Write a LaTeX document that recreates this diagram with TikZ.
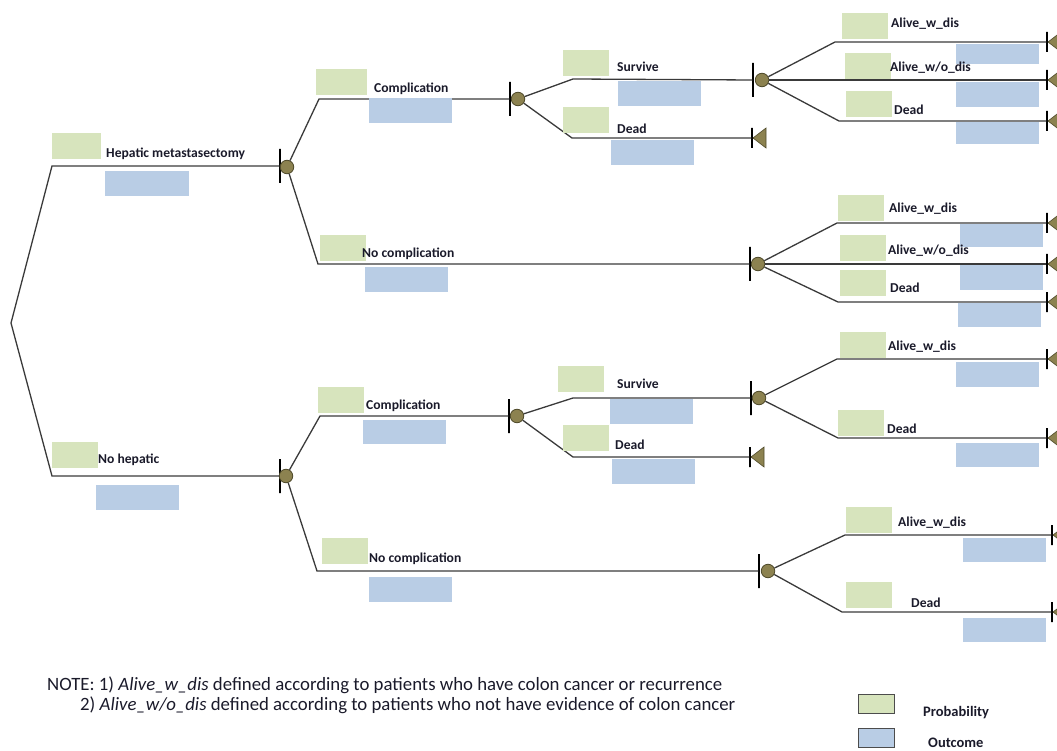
\documentclass[tikz,border=0pt]{standalone}
\usepackage{fontspec}
\setmainfont{Carlito}[BoldFont={Carlito Bold},ItalicFont={Carlito Italic}]
\definecolor{pgreen}{HTML}{D7E4BD}
\definecolor{oblue}{HTML}{B9CDE5}
\definecolor{olive}{HTML}{8C8250}
\definecolor{oliveD}{HTML}{4F4A2A}
\definecolor{linec}{HTML}{3A3A3A}
\definecolor{txt}{HTML}{1A1A2A}
\begin{document}
\begin{tikzpicture}[x=1pt,y=-1pt,
 branch/.style={draw=linec,line width=1.3pt},
 pbox/.style={fill=pgreen,anchor=north west,inner sep=0,minimum width=46pt,minimum height=26pt},
 obox/.style={fill=oblue,anchor=north west,inner sep=0,minimum width=83pt,minimum height=25pt},
 lab/.style={anchor=base west,inner sep=0,font=\fontsize{13.6}{15}\selectfont\bfseries,text=txt},
 leglab/.style={anchor=base west,inner sep=0,font=\fontsize{14.5}{16}\selectfont\bfseries,text=txt},
 bigtick/.style={draw=black,line width=1.3pt,inner sep=0,minimum width=0pt,minimum height=34pt},
 smalltick/.style={draw=black,line width=1.3pt,inner sep=0,minimum width=0pt,minimum height=20pt},
 chance/.style={circle,draw=oliveD,fill=olive,line width=0.8pt,inner sep=0,minimum size=13.5pt},
 endtri/.style={fill=olive,draw=oliveD,line width=0.6pt},
 legbox/.style={draw=black!70,line width=1pt,anchor=north west,inner sep=0,minimum width=36pt,minimum height=19pt},
 note/.style={anchor=base west,inner sep=0,font=\fontsize{18.8}{20}\selectfont,text=txt}]
\useasboundingbox (0,0) rectangle (1057,751);
\clip (0,0) rectangle (1057,751);

% ---- coordinates of branch corners
\coordinate (R) at (11,323);
\coordinate (A1) at (52,166);
\coordinate (A2) at (52,476);
\coordinate (B1) at (319,99);
\coordinate (B2) at (318,264);
\coordinate (D1) at (573,79);
\coordinate (D2) at (572,138);
\coordinate (F1) at (835,42);
\coordinate (F3) at (839,121);
\coordinate (G1) at (837,223);
\coordinate (G3) at (838,302);
\coordinate (H1) at (320,416);
\coordinate (H2) at (317,571);
\coordinate (I1) at (573,398);
\coordinate (I2) at (573,457);
\coordinate (J1) at (837,359);
\coordinate (J2) at (838,438);
\coordinate (K1) at (845,535);
\coordinate (K2) at (842,612);

% ---- ticks and chance nodes
\node[bigtick] (t1) at (280,166) {};
\node[bigtick] (t2) at (280,476) {};
\node[bigtick] (t3) at (510,99) {};
\node[bigtick] (t4) at (750,264) {};
\node[bigtick] (t5) at (753,80) {};
\node[bigtick] (t6) at (509,416) {};
\node[bigtick] (t7) at (759,571) {};
\node[bigtick] (t8) at (751,398) {};
\node[chance] (c1) at (287,167) {};
\node[chance] (c2) at (286,476) {};
\node[chance] (c3) at (518,99) {};
\node[chance] (c4) at (758,264) {};
\node[chance] (c5) at (762,80) {};
\node[chance] (c6) at (517,416) {};
\node[chance] (c7) at (768,571) {};
\node[chance] (c8) at (759,398) {};

% ---- terminal ticks
\node[smalltick] (e1) at (752,138) {};
\node[smalltick] (e2) at (750,457) {};
\node[smalltick] (e3) at (1047,42) {};
\node[smalltick] (e4) at (1047,80) {};
\node[smalltick] (e5) at (1047,121) {};
\node[smalltick] (e6) at (1047,223) {};
\node[smalltick] (e7) at (1047,264) {};
\node[smalltick] (e8) at (1047,302) {};
\node[smalltick] (e9) at (1047,359) {};
\node[smalltick] (e10) at (1047,438) {};
\node[smalltick] (e11) at (1052,535) {};
\node[smalltick] (e12) at (1052,612) {};

% ---- branches
\draw[branch] (R) -- (A1) -- (t1);
\draw[branch] (R) -- (A2) -- (t2);
\draw[branch] (c1) -- (B1) -- (t3);
\draw[branch] (c1) -- (B2) -- (t4);
\draw[branch] (c3) -- (D1) -- (t5);
\draw[branch] (c3) -- (D2) -- (e1);
\draw[branch] (c5) -- (F1) -- (e3);
\draw[branch] (c5) -- (e4);
\draw[branch] (c5) -- (F3) -- (e5);
\draw[branch] (c4) -- (G1) -- (e6);
\draw[branch] (c4) -- (e7);
\draw[branch] (c4) -- (G3) -- (e8);
\draw[branch] (c2) -- (H1) -- (t6);
\draw[branch] (c2) -- (H2) -- (t7);
\draw[branch] (c6) -- (I1) -- (t8);
\draw[branch] (c6) -- (I2) -- (e2);
\draw[branch] (c8) -- (J1) -- (e9);
\draw[branch] (c8) -- (J2) -- (e10);
\draw[branch] (c7) -- (K1) -- (e11);
\draw[branch] (c7) -- (K2) -- (e12);

% ---- terminal triangles
\foreach \n in {e1,e2,e3,e4,e5,e6,e7,e8,e9,e10,e11,e12}
  {\filldraw[endtri] ([xshift=1pt]\n.center) -- ++(13,-10) -- ++(0,20) -- cycle;}

% ---- probability / outcome boxes and labels
\node[pbox,minimum width=49pt] (p1) at (52,133) {};
\node[obox,minimum width=84pt] (o1) at (105,171) {};
\node[lab] (l1) at (106,158) {Hepatic metastasectomy};

\node[pbox] (p2) at (52,442) {};
\node[obox] (o2) at (96,485) {};
\node[lab] (l2) at (98,463) {No hepatic};

\node[pbox,minimum width=51pt] (p3) at (316,69) {};
\node[obox] (o3) at (369,98) {};
\node[lab] (l3) at (374,93) {Complication};

\node[pbox] (p4) at (320,235) {};
\node[obox] (o4) at (365,267) {};
\node[lab] (l4) at (362,258) {No complication};

\node[pbox] (p5) at (563,50) {};
\node[obox] (o5) at (618,81) {};
\node[lab] (l5) at (617,72) {Survive};

\node[pbox] (p6) at (563,107) {};
\node[obox] (o6) at (611,140) {};
\node[lab] (l6) at (617,134) {Dead};

\node[pbox] (p7) at (842,13) {};
\node[obox,minimum height=20pt] (o7) at (956,44) {};
\node[lab] (l7) at (891,28) {Alive\_w\_dis};

\node[pbox] (p8) at (845,53) {};
\node[obox] (o8) at (956,82) {};
\node[lab] (l8) at (890,72) {Alive\_w/o\_dis};

\node[pbox] (p9) at (846,91) {};
\node[obox,minimum height=22pt] (o9) at (956,122) {};
\node[lab] (l9) at (894,115) {Dead};

\node[pbox] (p10) at (838,195) {};
\node[obox,minimum height=23pt] (o10) at (960,224) {};
\node[lab] (l10) at (889,213) {Alive\_w\_dis};

\node[pbox] (p11) at (840,235) {};
\node[obox] (o11) at (960,265) {};
\node[lab] (l11) at (888,255) {Alive\_w/o\_dis};

\node[pbox] (p12) at (840,270) {};
\node[obox,minimum height=24pt] (o12) at (958,303) {};
\node[lab] (l12) at (890,293) {Dead};

\node[pbox] (p13) at (318,387) {};
\node[obox,minimum height=24pt] (o13) at (363,420) {};
\node[lab] (l13) at (366,409) {Complication};

\node[pbox] (p14) at (322,538) {};
\node[obox] (o14) at (369,577) {};
\node[lab] (l14) at (369,562) {No complication};

\node[pbox] (p15) at (558,366) {};
\node[obox] (o15) at (610,399) {};
\node[lab] (l15) at (617,388) {Survive};

\node[pbox] (p16) at (563,425) {};
\node[obox] (o16) at (612,459) {};
\node[lab] (l16) at (615,449) {Dead};

\node[pbox] (p17) at (840,332) {};
\node[obox] (o17) at (956,362) {};
\node[lab] (l17) at (888,350) {Alive\_w\_dis};

\node[pbox] (p18) at (838,410) {};
\node[obox,minimum height=24pt] (o18) at (956,443) {};
\node[lab] (l18) at (887,433) {Dead};

\node[pbox] (p19) at (846,507) {};
\node[obox,minimum height=24pt] (o19) at (963,538) {};
\node[lab] (l19) at (898,526) {Alive\_w\_dis};

\node[pbox] (p20) at (846,582) {};
\node[obox,minimum height=24pt] (o20) at (963,618) {};
\node[lab] (l20) at (911,607) {Dead};

% ---- note
\node[note] (n1) at (47,690) {NOTE: 1) \textit{Alive\_w\_dis} defined according to patients who have colon cancer or recurrence};
\node[note] (n2) at (80,710) {2) \textit{Alive\_w/o\_dis} defined according to patients who not have evidence of colon cancer};

% ---- legend
\node[legbox,fill=pgreen] (lg1) at (858,694) {};
\node[legbox,fill=oblue] (lg2) at (858,728) {};
\node[leglab] (lt1) at (923,716) {Probability};
\node[leglab] (lt2) at (928,747) {Outcome};
\end{tikzpicture}
\end{document}
